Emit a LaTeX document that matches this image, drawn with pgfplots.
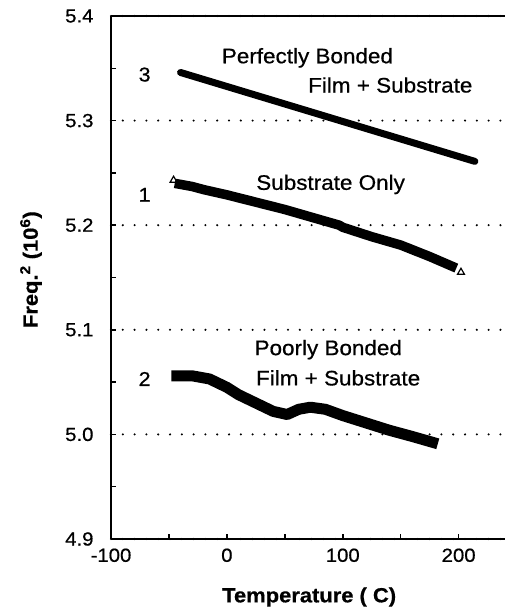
\documentclass[border=0pt]{standalone}
\usepackage{fontspec}
\setmainfont{Liberation Sans}[FakeStretch=1.07, FakeBold=0.6]
\usepackage{pgfplots}
\pgfplotsset{compat=1.18}
\begin{document}
\begin{tikzpicture}
\begin{axis}[
  name=ax,
  scale only axis, width=394pt, height=523pt,
  xmin=-100, xmax=240, ymin=4.9, ymax=5.4,
  axis x line=box, axis y line=left,
  x axis line style={-, line width=2.5pt},
  y axis line style={-, line width=2.5pt},
  xtick pos=bottom, ytick pos=left,
  xtick={-100,0,100,200}, minor xtick={-50,50,150},
  ytick={4.9,5.0,5.1,5.2,5.3,5.4}, minor ytick={4.95,5.05,5.15,5.25,5.35},
  tick align=inside, major tick length=5pt, minor tick length=5pt,
  tick style={line width=1.5pt, black},
  /pgf/number format/assume math mode=true,
  yticklabel style={/pgf/number format/fixed, /pgf/number format/fixed zerofill, /pgf/number format/precision=1, font=\fontsize{19}{21}\selectfont, xshift=-14pt},
  xticklabel style={font=\fontsize{19}{21}\selectfont, yshift=-6pt},
  ymajorgrids,
  major grid style={line width=2.3pt, dash pattern=on 0pt off 11.8pt, line cap=round, black},
  xlabel={\bfseries Temperature ( C)},
  ylabel={\bfseries Freq.\textsuperscript{2} (10\textsuperscript{6})},
  xlabel style={font=\fontsize{20.5}{22}\selectfont, at={(axis description cs:0.503,-0.111)}, anchor=center},
  ylabel style={font=\fontsize{20.5}{22}\selectfont, at={(axis description cs:-0.203,0.515)}, anchor=center},
  clip=false,
]
% 3: perfectly bonded
\addplot[black, line width=7pt, line cap=round] coordinates {(-40,5.346) (214,5.261)};
% 1: substrate only
\addplot[black, line width=9.5pt, line join=round] coordinates {
(-45,5.240) (-30,5.237) (-20,5.234) (0,5.229) (25,5.222) (50,5.215) (75,5.207)
(97,5.200) (100,5.198) (125,5.189) (150,5.181) (175,5.170) (198,5.159)};
\addplot[only marks, mark=triangle, mark size=4pt, mark options={fill=white, line width=1.2pt, black}] coordinates {(-46,5.243) (202,5.155)};
% 2: poorly bonded
\addplot[black, line width=11pt, line join=round] coordinates {
(-48,5.056) (-30,5.056) (-15,5.053) (0,5.045) (10,5.038) (25,5.030) (40,5.022)
(52,5.019) (62,5.024) (72,5.026) (85,5.024) (100,5.018) (120,5.011) (140,5.004)
(160,4.998) (182,4.991)};
\node[font=\fontsize{20}{22}\selectfont] at (axis cs:-71,5.344) {3};
\node[font=\fontsize{20}{22}\selectfont] at (axis cs:-71,5.229) {1};
\node[font=\fontsize{20}{22}\selectfont] at (axis cs:-71,5.053) {2};
\node[font=\fontsize{21}{23}\selectfont] at (axis cs:69.5,5.360) {Perfectly Bonded};
\node[font=\fontsize{21}{23}\selectfont] at (axis cs:141,5.334) {Film + Substrate};
\node[font=\fontsize{21}{23}\selectfont] at (axis cs:89.5,5.239) {Substrate Only};
\node[font=\fontsize{21}{23}\selectfont] at (axis cs:87.5,5.081) {Poorly Bonded};
\node[font=\fontsize{21}{23}\selectfont] at (axis cs:96,5.054) {Film + Substrate};
\end{axis}
\pgfresetboundingbox
\path[use as bounding box] ([xshift=-111pt,yshift=-74pt]ax.south west) rectangle ([yshift=16pt]ax.north east);
\end{tikzpicture}
\end{document}
